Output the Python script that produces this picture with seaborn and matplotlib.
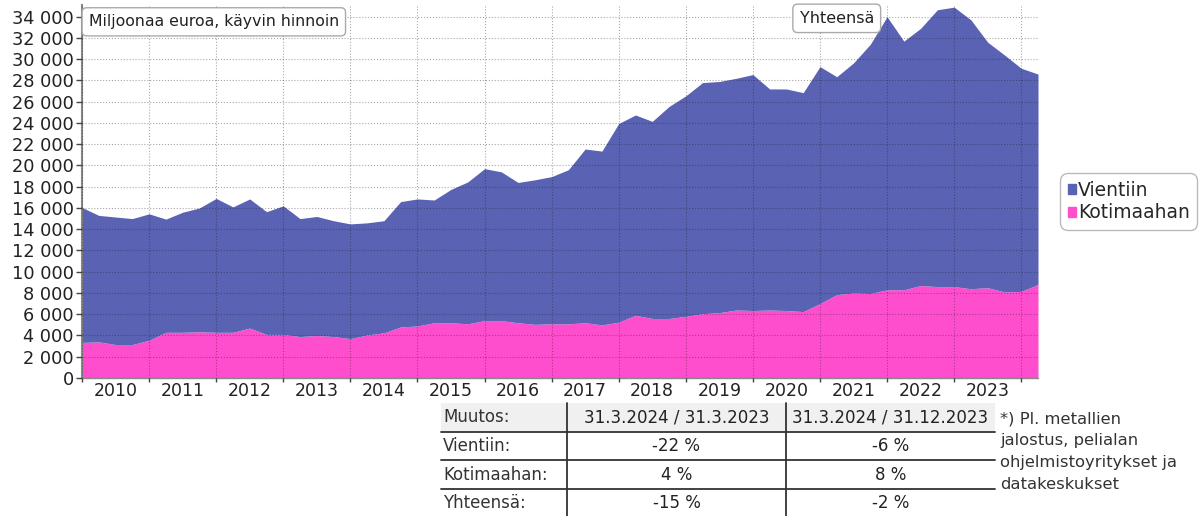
import matplotlib
matplotlib.use('Agg')
import matplotlib.pyplot as plt
from matplotlib.patches import Patch, Rectangle
from matplotlib.ticker import FuncFormatter, MultipleLocator
import pandas as pd
import seaborn as sns

# quarterly values, 2009Q4 .. 2024Q1, million euros
total = [16050, 15300, 15150, 15000, 15450, 14950, 15600, 16000, 16900, 16100,
         16850, 15650, 16200, 15000, 15200, 14800, 14500, 14600, 14800, 16600,
         16850, 16750, 17750, 18450, 19700, 19400, 18400, 18650, 18950, 19600,
         21550, 21350, 23950, 24750, 24150, 25550, 26550, 27800, 27900, 28200,
         28550, 27200, 27200, 26850, 29300, 28350, 29650, 31400, 34000, 31700,
         32900, 34650, 34900, 33700, 31600, 30400, 29150, 28600]
kotimaahan = [3350, 3400, 3150, 3150, 3550, 4300, 4300, 4350, 4300, 4300,
              4700, 4100, 4100, 3900, 4000, 3900, 3700, 4050, 4250, 4800,
              4900, 5200, 5200, 5100, 5400, 5400, 5200, 5050, 5100, 5100,
              5200, 5000, 5250, 5900, 5600, 5600, 5800, 6050, 6150, 6400,
              6350, 6400, 6350, 6250, 7000, 7850, 8000, 7950, 8300, 8300,
              8700, 8600, 8600, 8400, 8500, 8100, 8150, 8800]
years = list(range(2010, 2024))

table_head = ['Muutos:', '31.3.2024 / 31.3.2023', '31.3.2024 / 31.12.2023']
table_rows = [['Vientiin:', '-22 %', '-6 %'],
              ['Kotimaahan:', '4 %', '8 %'],
              ['Yhteensä:', '-15 %', '-2 %']]
note = ['*) Pl. metallien', 'jalostus, pelialan', 'ohjelmistoyritykset ja', 'datakeskukset']

df = pd.DataFrame({'Kotimaahan': kotimaahan, 'Yhteensä': total})
df['Vientiin'] = df['Yhteensä'] - df['Kotimaahan']
df['q'] = range(len(df))

sns.set_theme(style='white')
plt.rcParams['font.family'] = ['DejaVu Sans']
blue = '#5a62b3'
pink = '#ff4ecd'

fig = plt.figure(figsize=(12, 5.16), dpi=100)
ax = fig.add_axes([82/1200, 1-378/516, (1038-82)/1200, (378-5)/516])
ax.stackplot(df['q'], df['Kotimaahan'], df['Vientiin'], colors=[pink, blue], lw=0)

ax.set_xlim(0, len(df)-1)
ax.set_ylim(0, 35100)
ax.yaxis.set_major_locator(MultipleLocator(2000))
ax.yaxis.set_major_formatter(FuncFormatter(lambda v, p: f'{int(v):,}'.replace(',', ' ')))
ax.set_xticks(range(0, len(df), 4))
ax.set_xticklabels([])
ax.set_xticks([2 + 4*i for i in range(len(years))], minor=True)
ax.set_xticklabels([str(y) for y in years], minor=True)
ax.tick_params(axis='x', which='minor', length=0, labelsize=12.5, pad=3, colors='#222')
ax.tick_params(axis='x', which='major', length=3, width=1, color='#444', direction='out', bottom=True)
ax.tick_params(axis='y', length=4, width=1, color='#444', direction='out', left=True, labelsize=12.8, pad=2)
ax.tick_params(axis='y', colors='#444', labelcolor='#222')

ax.set_axisbelow(False)
ax.grid(True, which='major', color='k', alpha=0.38, linestyle=':', linewidth=0.8)
for s in ['top', 'right']:
    ax.spines[s].set_visible(False)
ax.spines['left'].set_color('#888')
ax.spines['left'].set_linewidth(1.5)
ax.spines['bottom'].set_color('#888')
ax.spines['bottom'].set_linewidth(1)

box = dict(boxstyle='round,pad=0.42,rounding_size=0.3', fc='white', ec='#aaa', lw=1)
ax.text(0.007, 0.975, 'Miljoonaa euroa, käyvin hinnoin', transform=ax.transAxes,
        ha='left', va='top', fontsize=11.3, color='#222', bbox=box)
ax.text(45.0, 34550, 'Yhteensä', ha='center', va='top', fontsize=11.5, color='#222', bbox=box)

handles = [Patch(color=blue, label='Vientiin'), Patch(color=pink, label='Kotimaahan')]
leg = fig.legend(handles=handles, loc='upper left', bbox_to_anchor=(1063/1200, 1-176/516),
                 fontsize=13.5, frameon=True, handlelength=0.45, handleheight=0.45,
                 handletextpad=0.1, borderpad=0.25, labelspacing=0.2, borderaxespad=0)
leg.get_frame().set_edgecolor('#aaa')
leg.get_frame().set_linewidth(1)
leg.get_frame().set_boxstyle('round', pad=0.15, rounding_size=0.4)

# change table and note, drawn on a pixel-coordinate overlay
ov = fig.add_axes([0, 0, 1, 1], facecolor='none')
ov.set_xlim(0, 1200)
ov.set_ylim(516, 0)
ov.axis('off')
cols = [441, 567, 786, 995]
rows = [403, 432, 460, 489, 517]
ov.add_patch(Rectangle((cols[0], rows[0]), cols[3]-cols[0], rows[1]-rows[0], fc='#f0f0f0', ec='none'))
for y in rows[1:4]:
    ov.plot([cols[0], cols[3]], [y, y], color='#333', lw=1.3)
for x in cols[1:3]:
    ov.plot([x, x], [rows[0], rows[4]], color='#333', lw=1.3)
for r, cells in enumerate([table_head] + table_rows):
    yc = (rows[r] + rows[r+1]) / 2
    ov.text(cols[0]+2, yc, cells[0], ha='left', va='center', fontsize=12, color='#333')
    for c in (1, 2):
        ov.text((cols[c]+cols[c+1])/2, yc, cells[c], ha='center', va='center', fontsize=12, color='#222')
for i, line in enumerate(note):
    ov.text(1000, 419 + 21.8*i, line, ha='left', va='center', fontsize=11.8, color='#333')

fig.savefig('out.png', dpi=100)
